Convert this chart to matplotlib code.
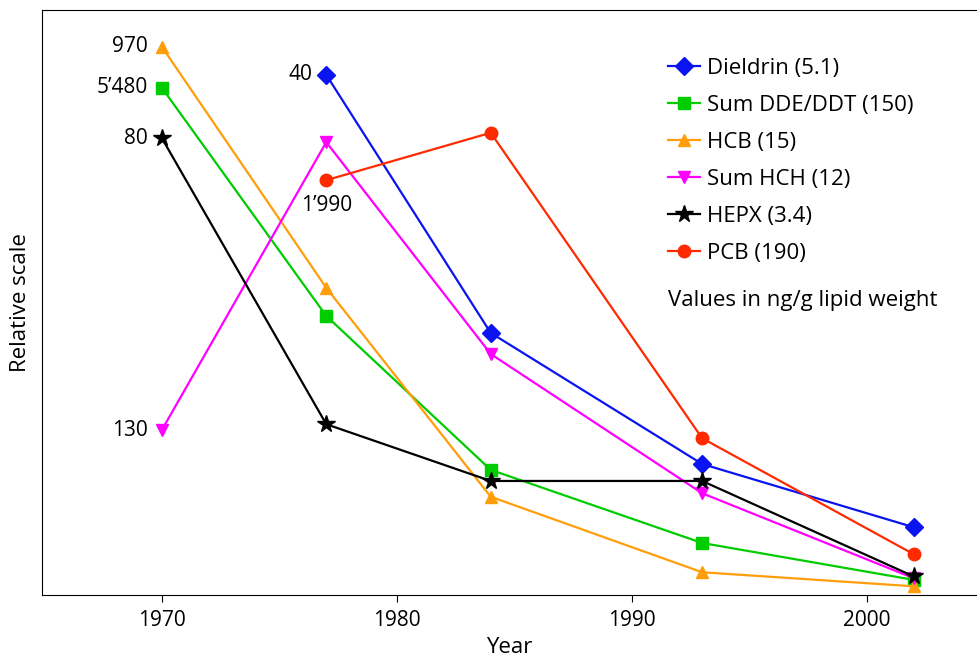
"""
Relative trend of organochlorine residues, 1970-2002
"""

import matplotlib
matplotlib.use("Agg")
import matplotlib.pyplot as plt

plt.rcParams['font.family'] = ['Open Sans', 'DejaVu Sans']

# survey years
years = [1970, 1977, 1984, 1993, 2002]

# relative scale values (0 = axis bottom, 100 = axis top)
dieldrin = [None, 88.9, 44.8, 22.4, 11.6]
dde_ddt = [86.7, 47.7, 21.4, 8.9, 2.6]
hcb = [93.7, 52.5, 16.8, 3.9, 1.5]
hch = [28.2, 77.4, 41.2, 17.4, 2.9]
hepx = [78.1, 29.2, 19.5, 19.5, 3.2]
pcb = [None, 70.9, 79.0, 26.8, 7.0]

labels = ["Dieldrin (5.1)", "Sum DDE/DDT (150)", "HCB (15)",
          "Sum HCH (12)", "HEPX (3.4)", "PCB (190)"]
tick_years = [1970, 1980, 1990, 2000]

series = [
    (dieldrin, "#0a14f0", "D", 9),
    (dde_ddt, "#00cc00", "s", 8),
    (hcb, "#ff9d0a", "^", 9),
    (hch, "#ff00ff", "v", 9),
    (hepx, "#000000", "*", 13),
    (pcb, "#ff2a00", "o", 9),
]

FS = 15

fig = plt.figure(figsize=(9.77, 6.59), dpi=100)
ax = fig.add_axes([0.043, 0.097, 0.957, 0.888])

for (vals, color, marker, ms), label in zip(series, labels):
    xs = [x for x, v in zip(years, vals) if v is not None]
    ys = [v for v in vals if v is not None]
    ax.plot(xs, ys, color=color, marker=marker, markersize=ms,
            linewidth=1.6, label=label)

# starting concentrations (ng/g lipid weight) next to first points
ax.text(1969.4, hcb[0], "970", ha="right", va="center", fontsize=FS)
ax.text(1969.4, dde_ddt[0], "5\u2019480", ha="right", va="center", fontsize=FS)
ax.text(1969.4, hepx[0], "80", ha="right", va="center", fontsize=FS)
ax.text(1969.4, hch[0], "130", ha="right", va="center", fontsize=FS)
ax.text(1976.4, dieldrin[1], "40", ha="right", va="center", fontsize=FS)
ax.text(1977.0, pcb[1] - 2.6, "1\u2019990", ha="center", va="top", fontsize=FS)

ax.set_xlim(1964.9, 2004.7)
ax.set_ylim(0, 100)
ax.set_xticks(tick_years)
ax.tick_params(axis='x', labelsize=FS, length=5, direction='out', pad=6)
ax.set_yticks([])
ax.spines['right'].set_visible(False)
ax.set_xlabel("Year", fontsize=16, labelpad=4)
ax.set_ylabel("Relative scale", fontsize=16, labelpad=8)

leg = ax.legend(loc="upper left", bbox_to_anchor=(0.6695, 0.918), frameon=False,
                fontsize=16, handlelength=1.45, labelspacing=0.72,
                handletextpad=0.3, borderpad=0, borderaxespad=0)
ax.text(0.6695, 0.503, "Values in ng/g lipid weight", transform=ax.transAxes,
        fontsize=16, va="center")

fig.savefig("out.png", dpi=100)
plt.close(fig)
